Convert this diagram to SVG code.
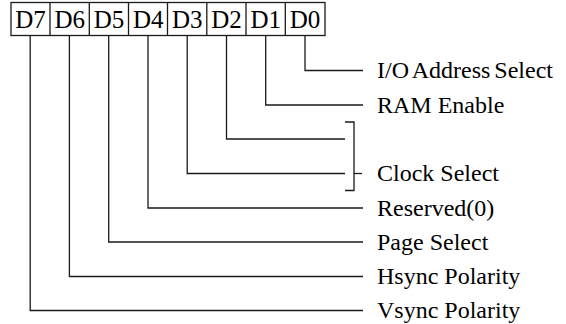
<svg xmlns="http://www.w3.org/2000/svg" width="566" height="324" viewBox="0 0 566 324">
<style>
.ln{fill:none;stroke:#1a1a1a;stroke-width:1.3}
.lbl{font-family:"Liberation Serif","Times New Roman",serif;font-size:24px;fill:#000}
.bit{font-family:"Liberation Serif","Times New Roman",serif;font-size:25px;fill:#000;text-anchor:middle}
</style>
<rect width="566" height="324" fill="#fff"/>
<g id="register">
<rect class="ln" x="11" y="2.5" width="314" height="33"/>
<line class="ln" x1="50" y1="2.5" x2="50" y2="35.5"/>
<line class="ln" x1="89.3" y1="2.5" x2="89.3" y2="35.5"/>
<line class="ln" x1="128.5" y1="2.5" x2="128.5" y2="35.5"/>
<line class="ln" x1="167.5" y1="2.5" x2="167.5" y2="35.5"/>
<line class="ln" x1="206.8" y1="2.5" x2="206.8" y2="35.5"/>
<line class="ln" x1="246" y1="2.5" x2="246" y2="35.5"/>
<line class="ln" x1="285.3" y1="2.5" x2="285.3" y2="35.5"/>
<text class="bit" x="30.5" y="28.3">D7</text>
<text class="bit" x="69.7" y="28.3">D6</text>
<text class="bit" x="109" y="28.3">D5</text>
<text class="bit" x="148.2" y="28.3">D4</text>
<text class="bit" x="187.3" y="28.3">D3</text>
<text class="bit" x="226.5" y="28.3">D2</text>
<text class="bit" x="265.8" y="28.3">D1</text>
<text class="bit" x="305" y="28.3">D0</text>
</g>
<g id="connectors">
<polyline class="ln" points="305,35.5 305,70.5 363,70.5"/>
<polyline class="ln" points="265.7,35.5 265.7,105 363,105"/>
<polyline class="ln" points="226.5,35.5 226.5,139 345,139"/>
<polyline class="ln" points="187.2,35.5 187.2,173.5 345,173.5"/>
<polyline class="ln" points="148,35.5 148,208 363,208"/>
<polyline class="ln" points="108.7,35.5 108.7,242 363,242"/>
<polyline class="ln" points="69.4,35.5 69.4,276.5 363,276.5"/>
<polyline class="ln" points="30.2,35.5 30.2,310.5 363,310.5"/>
<polyline class="ln" points="345,122 354,122 354,190.5 345,190.5"/>
<line class="ln" x1="354" y1="173.5" x2="362" y2="173.5"/>
</g>
<g id="labels">
<text class="lbl" x="377" y="78" word-spacing="-2">I/O Address Select</text>
<text class="lbl" x="377" y="112.5">RAM Enable</text>
<text class="lbl" x="377" y="181">Clock Select</text>
<text class="lbl" x="377" y="215.5">Reserved(0)</text>
<text class="lbl" x="377" y="249.5">Page Select</text>
<text class="lbl" x="377" y="284">Hsync Polarity</text>
<text class="lbl" x="377" y="318">Vsync Polarity</text>
</g>
</svg>
